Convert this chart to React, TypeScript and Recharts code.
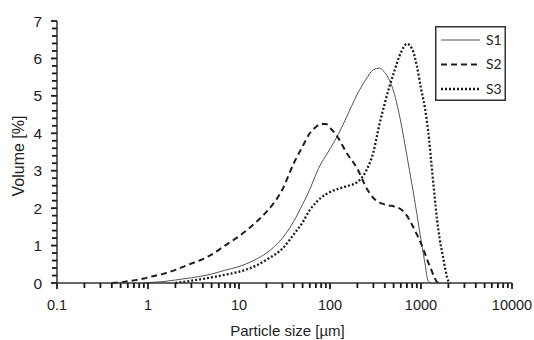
import { LineChart, Line, XAxis, YAxis, Legend } from 'recharts'

// particle size classes [µm] and volume [%] for each sample
const sizes = [0.4, 0.5, 0.7, 0.9, 1, 1.5, 2, 3, 4, 5, 7, 10, 15, 20, 30, 40, 50, 60, 70, 80, 90, 100, 125, 150, 200, 250, 300, 350, 400, 450, 500, 600, 700, 800, 900, 1000, 1100, 1200, 1300, 1400, 1500, 1600, 1750, 2000, 2100]
const s1 = [null, null, null, 0, 0.01, 0.04, 0.08, 0.14, 0.19, 0.24, 0.34, 0.44, 0.62, 0.8, 1.2, 1.65, 2.1, 2.5, 2.9, 3.2, 3.4, 3.58, 4.0, 4.4, 5.05, 5.45, 5.7, 5.74, 5.62, 5.42, 5.12, 4.3, 3.4, 2.6, 1.85, 1.15, 0.55, 0.05, 0, null, null, null, null, null, null]
const s2 = [0, 0.02, 0.07, 0.12, 0.15, 0.25, 0.35, 0.52, 0.64, 0.76, 1.0, 1.25, 1.6, 1.9, 2.5, 3.2, 3.65, 4.0, 4.17, 4.25, 4.25, 4.15, 3.85, 3.5, 3.05, 2.55, 2.27, 2.15, 2.1, 2.07, 2.05, 1.97, 1.8, 1.55, 1.3, 1.06, 0.8, 0.55, 0.35, 0.15, 0.03, 0, null, null, null]
const s3 = [null, null, null, null, null, null, 0, 0.06, 0.11, 0.15, 0.22, 0.3, 0.45, 0.62, 0.92, 1.3, 1.62, 1.95, 2.15, 2.28, 2.37, 2.43, 2.52, 2.58, 2.7, 3.0, 3.5, 4.25, 4.8, 5.25, 5.6, 6.15, 6.39, 6.25, 5.8, 5.2, 4.7, 4.05, 3.2, 2.4, 1.7, 1.2, 0.68, 0.05, 0]

const seriesNames = ['S1', 'S2', 'S3']
const xMajor = [0.1, 1, 10, 100, 1000, 10000]
const yMajor = [0, 1, 2, 3, 4, 5, 6, 7]

const data = sizes.map((size, i) => ({ size, s1: s1[i], s2: s2[i], s3: s3[i] }))

// log minor ticks 2..9 in every decade, y minor every 0.2
const xTicks = xMajor.flatMap((d, i) =>
  i === xMajor.length - 1 ? [d] : [1, 2, 3, 4, 5, 6, 7, 8, 9].map((k) => +(d * k).toPrecision(3))
)
const yTicks = Array.from({ length: 36 }, (_, i) => +(i * 0.2).toFixed(1))

const styles = [
  { key: 's1', stroke: '#555', width: 1, dash: undefined },
  { key: 's2', stroke: '#1e1e1e', width: 2, dash: '6 4' },
  { key: 's3', stroke: '#1e1e1e', width: 2.3, dash: '2 2' },
]

const FONT = '"Liberation Sans", Arial, sans-serif'
const AXIS = '#333'
const TICK = '#1a1a1a'

// tick mark + label drawn together
const XTick = (props: any) => {
  const { x, y, payload } = props
  const major = xMajor.includes(payload.value)
  return (
    <g>
      <rect x={x - 0.9} y={y} width={1.8} height={major ? 6 : 5} fill={TICK} />
      {major && (
        <text x={x} y={y + 27} textAnchor="middle" fontSize={14.5} fontFamily={FONT} fill="#222">
          {payload.value}
        </text>
      )}
    </g>
  )
}

const YTick = (props: any) => {
  const { x, y, payload } = props
  const major = yMajor.includes(payload.value)
  return (
    <g>
      <rect x={x - (major ? 6 : 5)} y={y - 0.9} width={major ? 6 : 5} height={1.8} fill={TICK} />
      {major && (
        <text x={x - 15} y={y} dy="0.36em" textAnchor="end" fontSize={15.5} fontFamily={FONT} fill="#222">
          {payload.value}
        </text>
      )}
    </g>
  )
}

const LegendBox = () => (
  <svg width={71} height={75} style={{ display: 'block' }}>
    <rect x={0.75} y={0.75} width={69.5} height={73.5} fill="#fff" stroke={AXIS} strokeWidth={1.5} />
    {styles.map((s, i) => (
      <g key={s.key}>
        <line x1={6} x2={45} y1={14 + i * 24.5} y2={14 + i * 24.5} stroke={s.stroke} strokeWidth={s.width} strokeDasharray={s.dash} />
        <text x={51} y={14 + i * 24.5} dy="0.35em" fontSize={14} fontFamily="Lato, sans-serif" fill="#222">
          {seriesNames[i]}
        </text>
      </g>
    ))}
  </svg>
)

export default function App() {
  return (
    <div style={{ position: 'absolute', left: 0, top: 0, background: '#fff' }}>
      <LineChart width={534} height={340} data={data} margin={{ top: 21, right: 22, left: 12, bottom: 17 }}>
        <XAxis
          dataKey="size"
          type="number"
          scale="log"
          domain={[0.1, 10000]}
          ticks={xTicks}
          interval={0}
          height={40}
          tickSize={0}
          tickMargin={0}
          tickLine={false}
          tick={<XTick />}
          axisLine={{ stroke: AXIS, strokeWidth: 1.5 }}
          label={{
            value: 'Particle size [µm]',
            content: (p: any) => {
              const vb = p.viewBox || { x: 57, y: 283, width: 455, height: 40 }
              return (
                <text x={vb.x + vb.width / 2 + 3} y={vb.y + 53} textAnchor="middle" fontSize={15} fontFamily={FONT} fill="#222">
                  Particle size [µm]
                </text>
              )
            },
          }}
        />
        <XAxis xAxisId="top" orientation="top" type="number" scale="log" domain={[0.1, 10000]} height={0} tick={false} tickLine={false} axisLine={{ stroke: AXIS, strokeWidth: 1.5 }} />
        <YAxis
          type="number"
          domain={[0, 7]}
          ticks={yTicks}
          interval={0}
          width={45}
          tickSize={0}
          tickMargin={0}
          tickLine={false}
          tick={<YTick />}
          axisLine={{ stroke: AXIS, strokeWidth: 1.5 }}
          label={{
            value: 'Volume [%]',
            content: (p: any) => {
              const vb = p.viewBox || { x: 12, y: 21, width: 45, height: 262 }
              const cx = 18
              const cy = vb.y + vb.height / 2 + 4
              return (
                <text x={cx} y={cy} transform={`rotate(-90 ${cx} ${cy})`} dy="0.35em" textAnchor="middle" fontSize={16} fontFamily={FONT} fill="#222">
                  Volume [%]
                </text>
              )
            },
          }}
        />
        <YAxis yAxisId="right" orientation="right" domain={[0, 7]} width={0} tick={false} tickLine={false} axisLine={{ stroke: AXIS, strokeWidth: 1.5 }} />
        <Legend
          layout="horizontal"
          verticalAlign="middle"
          align="center"
          content={<LegendBox />}
          wrapperStyle={{ position: 'absolute', left: 435, top: 26, width: 71, height: 75 }}
        />
        {styles.map((s, i) => (
          <Line
            key={s.key}
            name={seriesNames[i]}
            type="monotone"
            dataKey={s.key}
            stroke={s.stroke}
            strokeWidth={s.width}
            strokeDasharray={s.dash}
            dot={false}
            activeDot={false}
            connectNulls={false}
            isAnimationActive={false}
          />
        ))}
      </LineChart>
    </div>
  )
}
